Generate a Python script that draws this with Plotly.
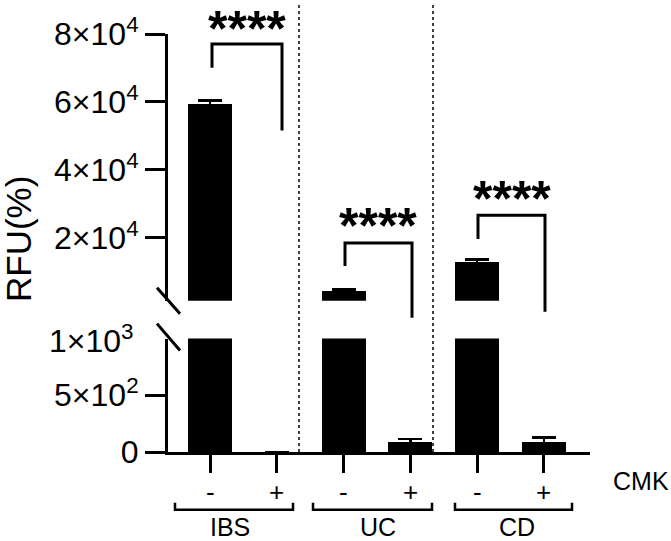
import plotly.graph_objects as go

# ---------------- data ----------------
groups = ["IBS", "UC", "CD"]
cmk = ["-", "+"]
values = [59500, 0, 4500, 95, 12900, 95]
errors = [1000, 0, 300, 18, 800, 35]
upper_ticks = [20000, 40000, 60000, 80000]
upper_ticklabels = ["2×10<sup>4</sup>", "4×10<sup>4</sup>", "6×10<sup>4</sup>", "8×10<sup>4</sup>"]
lower_ticks = [0, 500]
lower_ticklabels = ["0", "5×10<sup>2</sup>"]
lower_top_label = "1×10<sup>3</sup>"
sig_labels = ["****", "****", "****"]

xpos = list(range(len(values)))
FONT = "Liberation Sans, Arial, sans-serif"

# pixel helpers for annotation placement (plot area: x 168..590, y 32..452)
W, H = 671, 541
L, R, T, B = 168, 81, 32, 89
PW, PH = W - L - R, H - T - B
def px(xp):
    return (xp - L) / PW
def py(yp):
    return (H - B - yp) / PH

XR = [-0.63, 5.69]
def dx(xp):
    return XR[0] + (xp - L) / PW * (XR[1] - XR[0])

fig = go.Figure()
bar_kw = dict(marker=dict(color="black", line=dict(width=0)), width=0.66,
              error_y=dict(type="data", array=errors, color="black", thickness=2.5, width=12),
              showlegend=False, hoverinfo="skip")
fig.add_trace(go.Bar(x=xpos, y=values, xaxis="x", yaxis="y", **bar_kw))
fig.add_trace(go.Bar(x=xpos, y=values, xaxis="x2", yaxis="y2", **bar_kw))

axis_common = dict(showline=True, linecolor="black", linewidth=3, ticks="outside",
                   tickwidth=3, ticklen=20, tickcolor="black", showgrid=False, zeroline=False,
                   tickfont=dict(family=FONT, size=32, color="black"))

fig.update_layout(
    width=W, height=H, autosize=False,
    margin=dict(l=L, r=R, t=T, b=B, pad=0),
    plot_bgcolor="white", paper_bgcolor="white",
    bargap=0,
    xaxis=dict(range=XR, domain=[0, 1], anchor="y", showline=True, linecolor="black", linewidth=3,
               ticks="outside", tickwidth=3, ticklen=18, tickcolor="black", tickvals=xpos,
               showticklabels=False, showgrid=False, zeroline=False),
    xaxis2=dict(range=XR, domain=[0, 1], anchor="y2", matches="x", visible=False),
    yaxis=dict(domain=[0, py(338)], range=[0, 1000], tickvals=lower_ticks, ticktext=lower_ticklabels,
               anchor="x", **axis_common),
    yaxis2=dict(domain=[py(300), 1], range=[1500, 80000], tickvals=upper_ticks,
                ticktext=upper_ticklabels, anchor="x2", **axis_common),
)

shapes = []
# vertical dotted separators
for xp in (299, 433):
    shapes.append(dict(type="line", xref="x", yref="paper", x0=dx(xp), x1=dx(xp), y0=0, y1=py(0),
                       line=dict(color="black", width=1.5, dash="dot")))
# axis break slashes
for (y0, y1) in ((287, 313), (323, 350)):
    shapes.append(dict(type="line", xref="paper", yref="paper", x0=px(157), x1=px(180),
                       y0=py(y0), y1=py(y1), line=dict(color="black", width=3)))
# significance brackets: (left x, right x, top, left bottom, right bottom) in pixels
brackets = [(212, 282, 42, 66, 129), (345, 412, 242, 265, 317), (478, 545, 214, 238, 311)]
for (xl, xr, yt, ylb, yrb) in brackets:
    path = "M {a},{b} L {a},{c} L {d},{c} L {d},{e}".format(
        a=px(xl), b=py(ylb), c=py(yt), d=px(xr), e=py(yrb))
    shapes.append(dict(type="path", xref="paper", yref="paper", path=path,
                       line=dict(color="black", width=3)))
# group brackets under axis
gb = [(175, 293), (313, 432), (455, 572)]
for (x0, x1) in gb:
    path = "M {a},{b} L {a},{c} L {d},{c} L {d},{b}".format(a=px(x0), b=py(503), c=py(510), d=px(x1))
    shapes.append(dict(type="path", xref="paper", yref="paper", path=path,
                       line=dict(color="black", width=2.5)))
fig.update_layout(shapes=shapes)

ann = []
# y title
ann.append(dict(text="RFU(%)", xref="paper", yref="paper", x=px(18), y=py(238), showarrow=False,
                textangle=-90, font=dict(family=FONT, size=35, color="black"),
                xanchor="center", yanchor="middle"))
# 1x10^3 label on lower axis top
ann.append(dict(text=lower_top_label, xref="paper", yref="y", x=px(136), y=1000, showarrow=False,
                xanchor="right", yanchor="middle", font=dict(family=FONT, size=32, color="black")))
# CMK +/- labels
for i, xv in enumerate(xpos):
    ann.append(dict(text=cmk[i % 2], xref="x", yref="paper", x=xv, y=py(492), showarrow=False,
                    xanchor="center", yanchor="middle", font=dict(family=FONT, size=26, color="black")))
ann.append(dict(text="CMK", xref="paper", yref="paper", x=px(641), y=py(481), showarrow=False,
                xanchor="center", yanchor="middle", font=dict(family=FONT, size=25, color="black")))
# group labels
for g, xp in zip(groups, (230, 378, 517)):
    ann.append(dict(text=g, xref="paper", yref="paper", x=px(xp), y=py(527), showarrow=False,
                    xanchor="center", yanchor="middle", font=dict(family=FONT, size=25, color="black")))
# stars
for s, (xp, yp) in zip(sig_labels, ((247, 17), (378, 215), (512, 188))):
    ann.append(dict(text="<b>" + s + "</b>", xref="paper", yref="paper", x=px(xp), y=py(yp),
                    showarrow=False, xanchor="center", yanchor="middle", yshift=-10,
                    font=dict(family=FONT, size=50, color="black")))
fig.update_layout(annotations=ann)

fig.write_html("out.html")
